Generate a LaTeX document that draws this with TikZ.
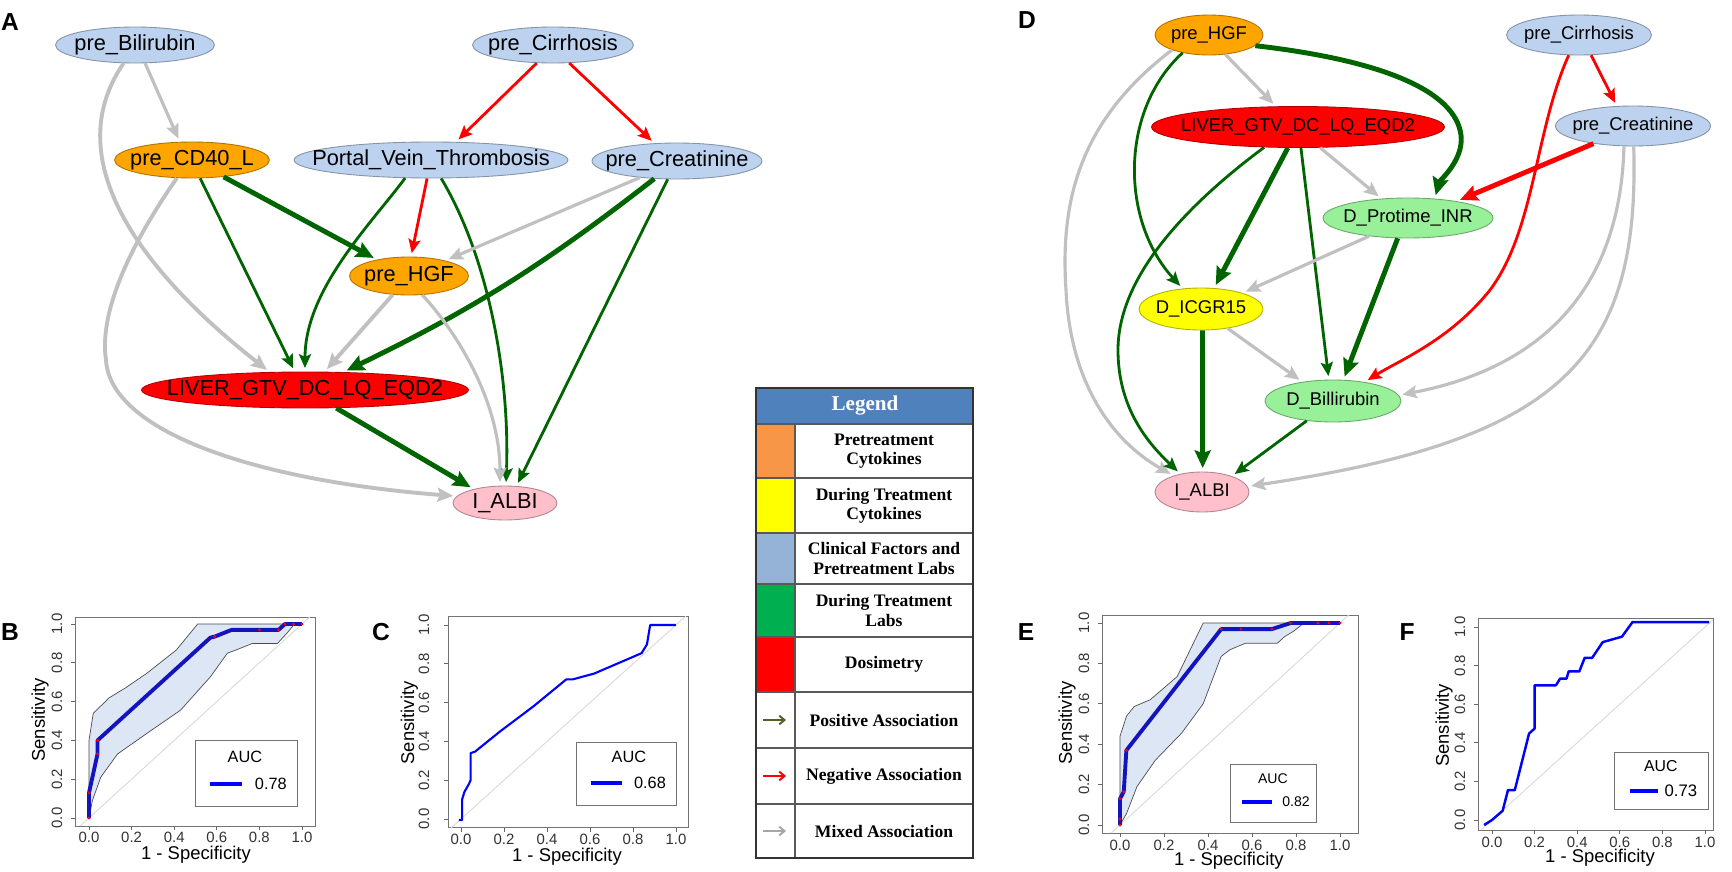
\documentclass[tikz,border=0pt]{standalone}
\usepackage{fontspec}
\setmainfont{Liberation Serif}
\setsansfont{Liberation Sans}
\usepackage{tikz}
\usetikzlibrary{shapes.geometric,arrows.meta}
\definecolor{nblue}{RGB}{188,210,238}
\definecolor{norange}{RGB}{255,165,0}
\definecolor{nred}{RGB}{255,0,0}
\definecolor{npink}{RGB}{255,192,203}
\definecolor{ngreen}{RGB}{152,240,152}
\definecolor{nyellow}{RGB}{255,255,0}
\definecolor{posgreen}{RGB}{0,100,0}
\definecolor{negred}{RGB}{255,0,0}
\definecolor{mixgray}{RGB}{192,192,192}
\definecolor{legblue}{RGB}{79,129,189}
\definecolor{legorange}{RGB}{247,150,70}
\definecolor{legyellow}{RGB}{255,255,0}
\definecolor{legsky}{RGB}{149,179,215}
\definecolor{leggreen}{RGB}{0,176,80}
\definecolor{legolive}{RGB}{79,98,40}
\definecolor{leggray}{RGB}{166,166,166}
\definecolor{bandfill}{RGB}{220,230,245}
\definecolor{rocnavy}{RGB}{20,20,190}
\definecolor{rocblue}{RGB}{0,0,255}
\tikzset{>={Stealth[length=5pt 1.8,width=4pt 1.8,inset=1.5pt]}}
\tikzset{
  var/.style={ellipse, fill=#1, draw=#1!70!black, line width=0.5pt, inner sep=0pt},
  afont/.style={font=\sffamily\fontsize{12.4}{14}\selectfont},
  dfont/.style={font=\sffamily\fontsize{10.5}{12}\selectfont},
  plab/.style={font=\sffamily\bfseries\fontsize{14}{16}\selectfont},
  posedge/.style={->, draw=posgreen, line width=1.6pt, shorten >=2pt},
  negedge/.style={->, draw=negred, line width=1.6pt, shorten >=2pt},
  mixedge/.style={->, draw=mixgray, line width=1.8pt, shorten >=2pt},
  heavy/.style={line width=2.8pt},
  legtext/.style={font=\bfseries\fontsize{10}{11}\selectfont, align=center},
  legline/.style={draw=black!65, line width=1pt},
  legarrow/.style={-{Straight Barb[length=3pt,width=5pt]}, line width=1.1pt},
  rocbox/.style={draw=black!55, line width=0.5pt},
  diagline/.style={draw=black!15, line width=0.5pt},
  band/.style={fill=bandfill, draw=black!70, line width=0.4pt},
  thickroc/.style={draw=rocnavy, line width=2.2pt, line join=round},
  thinroc/.style={draw=rocblue, line width=1.2pt, line join=round},
  tickmark/.style={draw=black!60, line width=0.5pt},
  ticklab/.style={font=\sffamily\fontsize{8.5}{10}\selectfont, text=black!80, inner sep=1pt},
  ylab/.style={ticklab, rotate=90, anchor=south, inner sep=4.5pt},
  axlab/.style={font=\sffamily\fontsize{10.5}{12}\selectfont, inner sep=0pt},
  auclab/.style={font=\sffamily\fontsize{9.3}{11}\selectfont}
}
\newcommand{\vlab}[1]{\makebox[0pt]{#1}}

\begin{document}
\begin{tikzpicture}[x=0.02cm, y=-0.02cm]
\path[use as bounding box, fill=white] (0,0) rectangle (1732,872);

% network A
\node[plab] (labA) at (10,22) {A};
\node[var=nblue, afont, minimum width=3.18cm, minimum height=0.72cm] (abil) at (135,45) {\vlab{pre\_Bilirubin}};
\node[var=nblue, afont, minimum width=3.22cm, minimum height=0.72cm] (acir) at (553,45) {\vlab{pre\_Cirrhosis}};
\node[var=norange, afont, minimum width=3.1cm, minimum height=0.72cm] (acd) at (192,160) {\vlab{pre\_CD40\_L}};
\node[var=nblue, afont, minimum width=5.48cm, minimum height=0.72cm] (apvt) at (431,160) {\vlab{Portal\_Vein\_Thrombosis}};
\node[var=nblue, afont, minimum width=3.4cm, minimum height=0.72cm] (acre) at (677,161) {\vlab{pre\_Creatinine}};
\node[var=norange, afont, minimum width=2.38cm, minimum height=0.76cm] (ahgf) at (409,276) {\vlab{pre\_HGF}};
\node[var=nred, afont, minimum width=6.54cm, minimum height=0.72cm] (aliv) at (305,390) {\vlab{LIVER\_GTV\_DC\_LQ\_EQD2}};
\node[var=npink, afont, minimum width=2.08cm, minimum height=0.68cm] (aalb) at (505,503) {\vlab{I\_ALBI}};

\draw[mixedge] (abil.-61) -- (acd.124);
\draw[mixedge, line width=2.2pt] (abil.-122) .. controls (50,170) and (165,290) .. (aliv.153);
\draw[mixedge, line width=2.2pt] (acd.-130) .. controls (120,260) and (100,320) .. (106,360) .. controls (110,430) and (250,480) .. (aalb.172);
\draw[posedge] (acd.-66) -- (aliv.119);
\draw[posedge, heavy] (acd.-28) -- (ahgf.153);
\draw[posedge] (apvt.-145) .. controls (370,225) and (305,290) .. (aliv.90);
\draw[negedge] (apvt.-102) -- (ahgf.84);
\draw[posedge] (apvt.-61) .. controls (490,260) and (510,380) .. (aalb.87);
\draw[mixedge] (acre.-156) -- (ahgf.23);
\draw[posedge, heavy] (acre.-142) to[bend left=6] (aliv.25);
\draw[posedge] (acre.-117) -- (aalb.56);
\draw[negedge] (acir.-132) -- (apvt.36);
\draw[negedge] (acir.-48) -- (acre.142);
\draw[mixedge, line width=2.2pt] (ahgf.-131) -- (aliv.43);
\draw[mixedge] (ahgf.-55) .. controls (455,330) and (500,400) .. (aalb.106);
\draw[posedge, heavy] (aliv.-30) -- (aalb.156);

% network D
\node[plab] (labD) at (1027,20) {D};
\node[var=norange, dfont, minimum width=2.16cm, minimum height=0.8cm] (dhgf) at (1209,35) {\vlab{pre\_HGF}};
\node[var=nblue, dfont, minimum width=2.9cm, minimum height=0.8cm] (dcir) at (1579,35) {\vlab{pre\_Cirrhosis}};
\node[var=nred, dfont, minimum width=5.86cm, minimum height=0.82cm] (dliv) at (1298,127) {\vlab{LIVER\_GTV\_DC\_LQ\_EQD2}};
\node[var=nblue, dfont, minimum width=3.1cm, minimum height=0.8cm] (dcre) at (1633,126) {\vlab{pre\_Creatinine}};
\node[var=ngreen, dfont, minimum width=3.4cm, minimum height=0.8cm] (dpro) at (1408,218) {\vlab{D\_Protime\_INR}};
\node[var=nyellow, dfont, minimum width=2.48cm, minimum height=0.84cm] (dicg) at (1201,309) {\vlab{D\_ICGR15}};
\node[var=ngreen, dfont, minimum width=2.72cm, minimum height=0.84cm] (dbil) at (1333,401) {\vlab{D\_Billirubin}};
\node[var=npink, dfont, minimum width=1.88cm, minimum height=0.8cm] (dalb) at (1202,492) {\vlab{I\_ALBI}};

\draw[mixedge] (dhgf.-50) -- (dliv.137);
\draw[posedge, heavy] (dhgf.-13) .. controls (1380,60) and (1455,90) .. (1461,135) .. controls (1464,160) and (1440,180) .. (dpro.36);
\draw[posedge] (dhgf.-146) .. controls (1120,110) and (1120,220) .. (dicg.132);
\draw[mixedge] (dhgf.-158) .. controls (1080,120) and (1060,200) .. (1066,290) .. controls (1070,380) and (1110,440) .. (dalb.150);
\draw[posedge, heavy] (dliv.-116) -- (dicg.58);
\draw[posedge] (dliv.-149) .. controls (1180,210) and (1118,280) .. (1118,350) .. controls (1118,410) and (1150,445) .. (dalb.140);
\draw[posedge] (dliv.-82) -- (dbil.101);
\draw[mixedge] (dliv.-43) -- (dpro.144);
\draw[negedge, heavy] (dcre.-156) -- (dpro.19);
\draw[negedge] (dcir.-59) -- (dcre.129);
\draw[negedge] (dcir.-117) .. controls (1535,130) and (1535,230) .. (1490,290) .. controls (1450,340) and (1400,360) .. (dbil.31);
\draw[mixedge] (dpro.-155) -- (dicg.21);
\draw[posedge, heavy] (dpro.-117) -- (dbil.64);
\draw[posedge, heavy] (dicg.-86) -- (dalb.88);
\draw[mixedge] (dicg.-36) -- (dbil.148);
\draw[posedge] (dbil.-143) -- (dalb.28);
\draw[mixedge] (dcre.-114) .. controls (1620,300) and (1530,370) .. (dbil.5);
\draw[mixedge] (dcre.-88) .. controls (1640,360) and (1560,440) .. (dalb.7);

% legend
\fill[legblue] (756,388) rectangle (973,424);
\fill[legorange] (756,424) rectangle (795,478);
\fill[legyellow] (756,478) rectangle (795,533);
\fill[legsky] (756,533) rectangle (795,584);
\fill[leggreen] (756,584) rectangle (795,637);
\fill[nred] (756,637) rectangle (795,692);
\foreach \yy in {424,478,533,584,637,692,748,804}
  \draw[legline] (756,\yy) -- (973,\yy);
\draw[legline] (795,424) -- (795,858);
\draw[draw=black!80, line width=1pt] (756,388) rectangle (973,858);
\node[font=\bfseries\fontsize{12}{14}\selectfont, text=white] (lghead) at (865,406) {Legend};
\node[legtext] (lgpre) at (884,451) {Pretreatment\\Cytokines};
\node[legtext] (lgdur) at (884,505.5) {During Treatment\\Cytokines};
\node[legtext] (lgcli) at (884,558.5) {Clinical Factors and\\Pretreatment Labs};
\node[legtext] (lglab) at (884,610.5) {During Treatment\\Labs};
\node[legtext] (lgdos) at (884,664.5) {Dosimetry};
\node[legtext] (lgpos) at (884,720) {Positive Association};
\node[legtext] (lgneg) at (884,776) {Negative Association};
\node[legtext] (lgmix) at (884,831) {Mixed Association};
\draw[legarrow, legolive] (763,720) -- (786,720);
\draw[legarrow, red] (763,776) -- (786,776);
\draw[legarrow, leggray] (763,831) -- (786,831);

% ROC B
\node[plab] (labB) at (10,632) {B};
\begin{scope}[shift={(89,818)}, x=4.26cm, y=3.88cm]
\draw[rocbox] (-0.066,-0.041) rectangle (1.061,1.036);
\draw[diagline] (-0.041,-0.041) -- (1.036,1.036);
\filldraw[band] (0,0.4) -- (0.02,0.54) -- (0.095,0.62) -- (0.17,0.67) -- (0.27,0.745) -- (0.41,0.866) -- (0.51,1.0) -- (1.0,1.0)
  -- (0.965,1.0) -- (0.935,0.96) -- (0.885,0.9) -- (0.767,0.9) -- (0.69,0.866) -- (0.65,0.85) -- (0.57,0.728) -- (0.43,0.556)
  -- (0.27,0.435) -- (0.134,0.33) -- (0.055,0.21) -- (0.016,0.09) -- (0,0) -- cycle;
\draw[thickroc] (0,0) -- (0,0.13) -- (0.04,0.33) -- (0.04,0.4) -- (0.57,0.93) -- (0.59,0.935) -- (0.67,0.97) -- (0.89,0.97) -- (0.92,1.0) -- (1.0,1.0);
\foreach \x/\y in {0/0,0/0.13,0.04/0.33,0.04/0.4,0.59/0.935,0.8/0.97,0.89/0.97,0.92/1,0.96/1,1/1}
  \fill[red] (\x,\y) circle (0.9pt);
\foreach \t [count=\i] in {0.0,0.2,0.4,0.6,0.8,1.0} {
  \draw[tickmark] (\t,-0.041) -- ++(0,-2.5pt) node[ticklab, below] (bx\i) {\t};
  \draw[tickmark] (-0.066,\t) -- ++(-2.5pt,0) node[ylab] (by\i) {\t};
}
\node[axlab] (bxlab) at (0.502,-0.191) {1 - Specificity};
\node[axlab, rotate=90] (bylab) at (-0.23,0.505) {Sensitivity};
\draw[rocbox] (0.498,0.062) rectangle (0.977,0.402);
\node[auclab] (bauc) at (0.732,0.314) {AUC};
\draw[rocblue, line width=2pt] (0.568,0.175) -- (0.718,0.175);
\node[auclab] (bval) at (0.854,0.175) {0.78};
\end{scope}

% ROC C
\node[plab] (labC) at (381,632) {C};
\begin{scope}[shift={(461,819)}, x=4.3cm, y=3.88cm]
\draw[rocbox] (-0.06,-0.046) rectangle (1.056,1.046);
\draw[diagline] (-0.046,-0.046) -- (1.046,1.046);
\draw[thinroc] (-0.01,-0.005) -- (0.005,-0.005) -- (0.005,0.10) -- (0.016,0.14) -- (0.034,0.175) -- (0.045,0.2) -- (0.045,0.34)
  -- (0.065,0.347) -- (0.18,0.45) -- (0.336,0.58) -- (0.49,0.72) -- (0.52,0.72) -- (0.62,0.75) -- (0.84,0.855) -- (0.865,0.9)
  -- (0.88,1.0) -- (1.0,1.0);
\foreach \t [count=\i] in {0.0,0.2,0.4,0.6,0.8,1.0} {
  \draw[tickmark] (\t,-0.046) -- ++(0,-2.5pt) node[ticklab, below] (cx\i) {\t};
  \draw[tickmark] (-0.06,\t) -- ++(-2.5pt,0) node[ylab, inner sep=8pt] (cy\i) {\t};
}
\node[axlab] (cxlab) at (0.493,-0.196) {1 - Specificity};
\node[axlab, rotate=90] (cylab) at (-0.24,0.495) {Sensitivity};
\draw[rocbox] (0.535,0.072) rectangle (1.0,0.397);
\node[auclab] (cauc) at (0.781,0.32) {AUC};
\draw[rocblue, line width=2pt] (0.605,0.186) -- (0.749,0.186);
\node[auclab] (cval) at (0.879,0.186) {0.68};
\end{scope}

% ROC E
\node[plab] (labE) at (1026,632) {E};
\begin{scope}[shift={(1120,825)}, x=4.4cm, y=4.04cm]
\draw[rocbox] (-0.082,-0.04) rectangle (1.086,1.04);
\draw[diagline] (-0.04,-0.04) -- (1.04,1.04);
\filldraw[band] (0,0.44) -- (0.03,0.54) -- (0.065,0.587) -- (0.137,0.62) -- (0.26,0.735) -- (0.378,1.0) -- (1.0,1.0)
  -- (0.836,1.0) -- (0.79,0.96) -- (0.75,0.934) -- (0.715,0.9) -- (0.57,0.9) -- (0.5,0.868) -- (0.46,0.835) -- (0.378,0.6)
  -- (0.28,0.455) -- (0.16,0.32) -- (0.077,0.19) -- (0.03,0.058) -- (0,0) -- cycle;
\draw[thickroc] (0,0) -- (0,0.13) -- (0.017,0.165) -- (0.029,0.37) -- (0.46,0.97) -- (0.69,0.97) -- (0.776,1.0) -- (1.0,1.0);
\foreach \x/\y in {0/0,0/0.03,0/0.13,0.017/0.165,0.029/0.37,0.46/0.97,0.55/0.97,0.69/0.97,0.776/1,0.9/1,0.95/1,1/1}
  \fill[red] (\x,\y) circle (0.9pt);
\foreach \t [count=\i] in {0.0,0.2,0.4,0.6,0.8,1.0} {
  \draw[tickmark] (\t,-0.04) -- ++(0,-2.5pt) node[ticklab, below] (ex\i) {\t};
  \draw[tickmark] (-0.082,\t) -- ++(-2.5pt,0) node[ylab] (ey\i) {\t};
}
\node[axlab] (exlab) at (0.495,-0.178) {1 - Specificity};
\node[axlab, rotate=90] (eylab) at (-0.24,0.505) {Sensitivity};
\draw[rocbox] (0.5,0.015) rectangle (0.895,0.302);
\node[auclab, font=\sffamily\fontsize{8}{10}\selectfont] (eauc) at (0.695,0.228) {AUC};
\draw[rocblue, line width=2pt] (0.555,0.114) -- (0.691,0.114);
\node[auclab, font=\sffamily\fontsize{8}{10}\selectfont] (evai) at (0.8,0.114) {0.82};
\end{scope}

% ROC F
\node[plab] (labF) at (1407,632) {F};
\begin{scope}[shift={(1492,820)}, x=4.26cm, y=3.86cm]
\draw[rocbox] (-0.066,-0.052) rectangle (1.038,1.047);
\draw[diagline] (-0.052,-0.052) -- (1.038,1.038);
\draw[thinroc, line width=1.4pt] (-0.037,-0.026) -- (0,0) -- (0.05,0.048) -- (0.075,0.155) -- (0.107,0.155) -- (0.174,0.448) -- (0.2,0.474)
  -- (0.2,0.698) -- (0.3,0.698) -- (0.32,0.733) -- (0.35,0.733) -- (0.36,0.77) -- (0.41,0.77) -- (0.435,0.84) -- (0.47,0.84)
  -- (0.52,0.922) -- (0.61,0.95) -- (0.66,1.026) -- (1.02,1.026);
\foreach \t [count=\i] in {0.0,0.2,0.4,0.6,0.8,1.0} {
  \draw[tickmark] (\t,-0.052) -- ++(0,-2.5pt) node[ticklab, below] (fx\i) {\t};
  \draw[tickmark] (-0.066,\t) -- ++(-2.5pt,0) node[ylab] (fy\i) {\t};
}
\node[axlab] (fxlab) at (0.507,-0.197) {1 - Specificity};
\node[axlab, rotate=90] (fylab) at (-0.225,0.49) {Sensitivity};
\draw[rocbox] (0.577,0.057) rectangle (1.014,0.352);
\node[auclab, font=\sffamily\fontsize{9}{11}\selectfont] (fauc) at (0.793,0.28) {AUC};
\draw[rocblue, line width=2.4pt] (0.648,0.15) -- (0.779,0.15);
\node[auclab, font=\sffamily\fontsize{9.5}{11}\selectfont] (fval) at (0.887,0.15) {0.73};
\end{scope}
\end{tikzpicture}
\end{document}
